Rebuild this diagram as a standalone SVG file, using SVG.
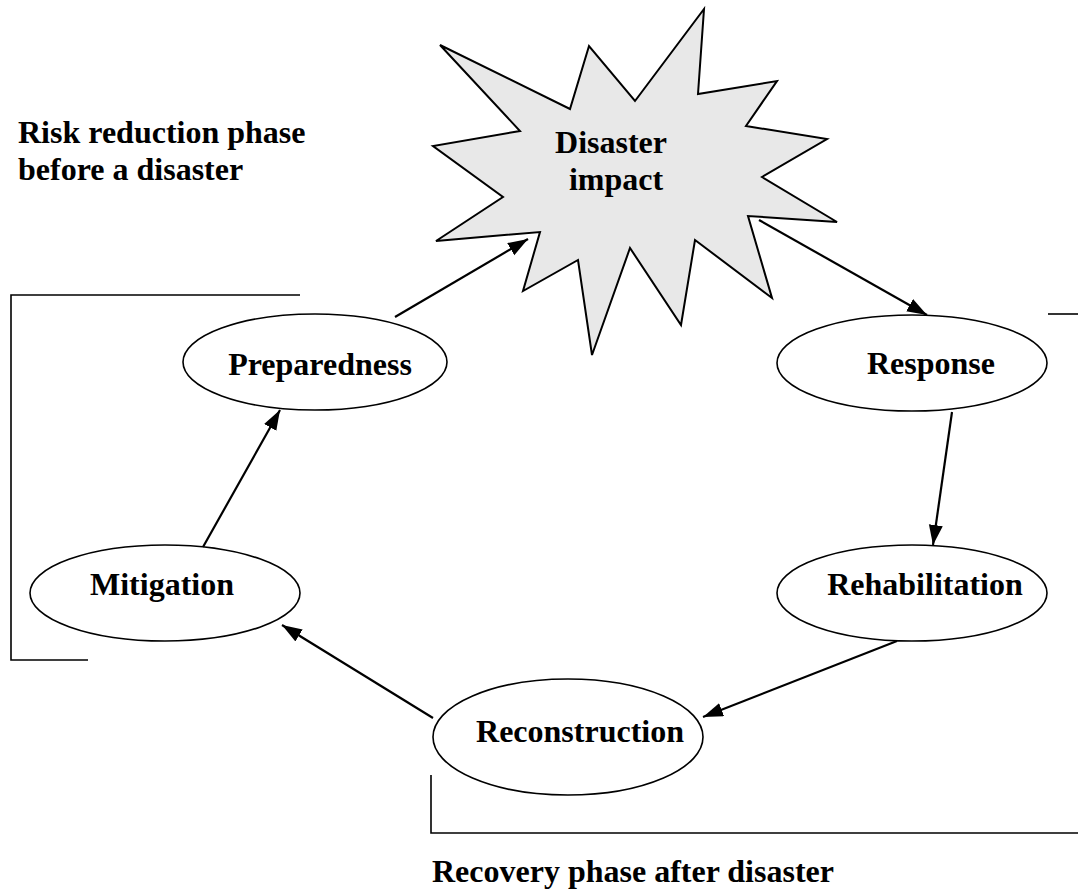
<svg xmlns="http://www.w3.org/2000/svg" width="1078" height="896" viewBox="0 0 1078 896">
<style>
text{font-family:"Liberation Serif","Times New Roman",serif;font-weight:bold;font-size:32px;fill:#000}
.node ellipse{fill:#fff;stroke:#000;stroke-width:1.6}
.star{fill:#e8e8e8;stroke:#000;stroke-width:2;stroke-linejoin:miter}
.conn line{stroke:#000;stroke-width:2.2;marker-end:url(#ah)}
.br{fill:none;stroke:#000;stroke-width:1.6}
</style>
<defs>
<marker id="ah" markerUnits="userSpaceOnUse" markerWidth="22" markerHeight="16" refX="20" refY="7" orient="auto">
<path d="M0,0 L20,7 L0,14 z" fill="#000"/>
</marker>
</defs>
<rect width="1078" height="896" fill="#fff"/>
<g id="brackets">
<polyline class="br" points="300,295 11,295 11,660 88,660"/>
<polyline class="br" points="431,775 431,833 1078,833"/>
<line class="br" x1="1048" y1="314" x2="1078" y2="314"/>
</g>
<g id="labels">
<text x="18" y="143">Risk reduction phase</text>
<text x="18" y="180">before a disaster</text>
<text x="432" y="882">Recovery phase after disaster</text>
</g>
<g id="disaster" class="node">
<polygon class="star" points="440,45 570,109 589,46 635,101 704,9 698,94 777,81 746,126 827,139 762,177 837,222 748,216 772,298 695,240 681,325 630,248 592,355 578,260 523,291 540,232 436,241 503,197 433,146 520,131"/>
<text x="611" y="153" text-anchor="middle">Disaster</text>
<text x="616" y="190" text-anchor="middle">impact</text>
</g>
<g id="preparedness" class="node">
<ellipse cx="315" cy="362" rx="132" ry="48"/>
<text x="320" y="375" text-anchor="middle">Preparedness</text>
</g>
<g id="response" class="node">
<ellipse cx="912" cy="363" rx="135" ry="48"/>
<text x="931" y="374" text-anchor="middle">Response</text>
</g>
<g id="rehabilitation" class="node">
<ellipse cx="912" cy="593" rx="135" ry="48"/>
<text x="925" y="595" text-anchor="middle">Rehabilitation</text>
</g>
<g id="reconstruction" class="node">
<ellipse cx="568" cy="737" rx="135" ry="58"/>
<text x="580" y="742" text-anchor="middle">Reconstruction</text>
</g>
<g id="mitigation" class="node">
<ellipse cx="165" cy="593" rx="135" ry="48"/>
<text x="162" y="595" text-anchor="middle">Mitigation</text>
</g>
<g id="connectors" class="conn">
<line x1="395" y1="317" x2="528" y2="239"/>
<line x1="759" y1="220" x2="927" y2="315"/>
<line x1="952" y1="412" x2="933" y2="545"/>
<line x1="897" y1="641" x2="703" y2="717"/>
<line x1="433" y1="718" x2="282" y2="625"/>
<line x1="203" y1="547" x2="280" y2="410"/>
</g>
</svg>
